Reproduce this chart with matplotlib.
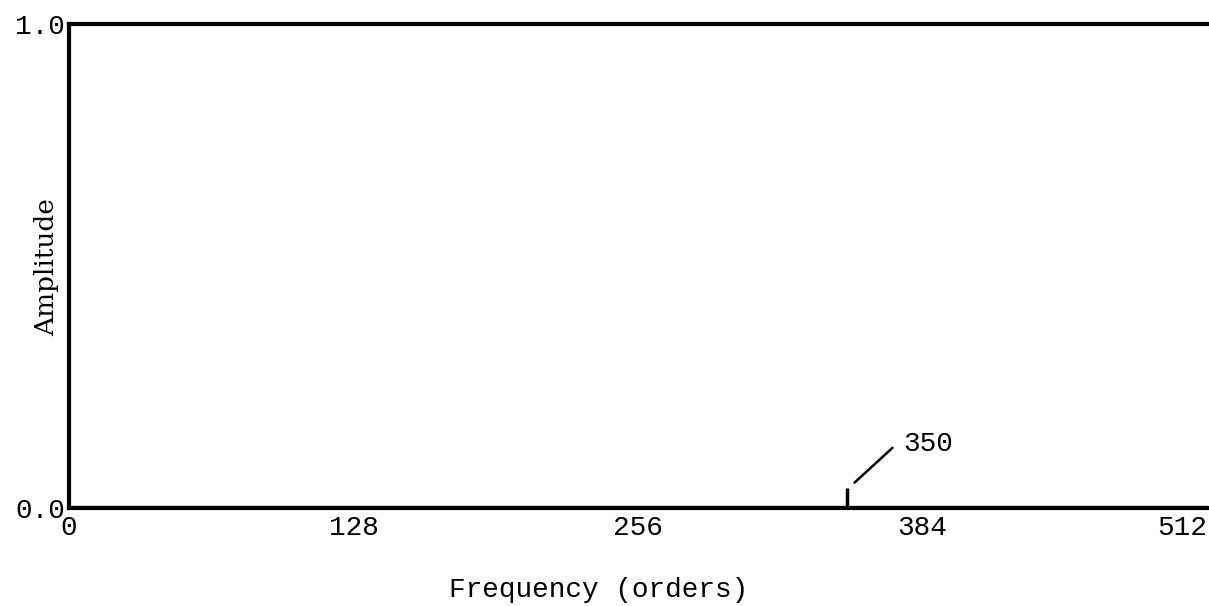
import matplotlib
matplotlib.use("Agg")
import matplotlib.pyplot as plt

# Data
spike_orders = [350]
spike_amplitudes = [0.041]
x_ticks = [0, 128, 256, 384, 512]
x_ticklabels = ["0", "128", "256", "384", "512"]
y_ticks = [0.0, 1.0]
y_ticklabels = ["0.0", "1.0"]
annot_label = "350"

W, H = 1209, 606
fig = plt.figure(figsize=(W / 100, H / 100), dpi=100)
ax = fig.add_axes([0.0571, 0.162, 0.9412, 0.798])

ax.axhline(0, color="black", lw=3, zorder=3)
ax.vlines(spike_orders, 0, spike_amplitudes, color="black", lw=2.5)

ax.set_xlim(0, 512)
ax.set_ylim(0, 1.0)

mono = "Liberation Mono"
ax.set_xticks(x_ticks)
ax.set_xticklabels(x_ticklabels, family=mono, fontsize=20)
ax.set_yticks(y_ticks)
ax.set_yticklabels(y_ticklabels, family=mono, fontsize=20)
labels = ax.get_xticklabels()
labels[-1].set_horizontalalignment("right")
ax.tick_params(length=0, pad=3)
ax.tick_params(axis="x", pad=5)

for side in ["left", "top", "bottom"]:
    ax.spines[side].set_linewidth(3)
ax.spines["right"].set_visible(False)

fig.text(599 / W, 1 - 590 / H, "Frequency (orders)", family=mono, fontsize=20,
         ha="center", va="center")
fig.text(47 / W, 1 - 267 / H, "Amplitude", family="DejaVu Serif", fontsize=19,
         rotation=90, ha="center", va="center")

for o, a in zip(spike_orders, spike_amplitudes):
    ax.annotate("", xy=(o + 3.4, a + 0.011), xytext=(o + 20.5, 0.124),
                arrowprops=dict(arrowstyle="-", color="black", lw=1.8,
                                shrinkA=0, shrinkB=0))
    ax.text(o + 25.5, 0.131, annot_label, family=mono, fontsize=20,
            va="center", ha="left")

fig.savefig("out.png", dpi=100)
